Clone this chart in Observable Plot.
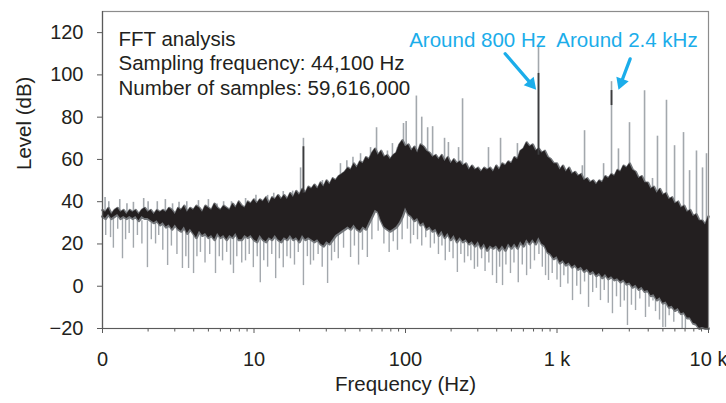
<!DOCTYPE html>
<html>
<head>
<meta charset="utf-8">
<script src="https://cdn.jsdelivr.net/npm/d3@7"></script>
<script src="https://cdn.jsdelivr.net/npm/@observablehq/plot@0.6"></script>
<style>
  html, body { margin: 0; padding: 0; background: #fff; }
  #chart svg { display: block; }
</style>
</head>
<body>
<div id="chart"></div>
<script>
// ---- Data ----
// The black spectral band is read at 50 points per decade, from 1 Hz to 10 kHz
const bandPointsPerDecade = 50;
const bandHigh = [
  36, 35, 37, 34, 36, 37, 35, 36, 34, 36,
  35, 36, 34, 36, 37, 35, 36, 34, 36, 35,
  36, 35, 37, 36, 34, 37, 36, 38, 35, 37,
  36, 38, 37, 35, 38, 37, 36, 39, 37, 36,
  38, 37, 36, 39, 37, 40, 38, 37, 40, 39,
  41, 39, 41, 40, 42, 39, 42, 41, 43, 41,
  43, 41, 44, 42, 45, 43, 46, 44, 47, 46,
  48, 46, 49, 47, 50, 48, 51, 50, 52, 53,
  54, 56, 55, 58, 56, 59, 58, 61, 60, 63,
  65, 62, 64, 61, 62, 60, 62, 63, 67, 69,
  66, 67, 64, 66, 63, 67, 66, 64, 63, 61,
  62, 60, 62, 59, 61, 58, 60, 58, 59, 57,
  58, 55, 57, 55, 56, 54, 56, 55, 56, 54,
  57, 55, 58, 57, 59, 58, 61, 60, 64, 65,
  68, 66, 67, 64, 65, 63, 64, 61, 60, 58,
  58, 55, 57, 54, 56, 53, 54, 52, 53, 50,
  51, 49, 50, 48, 50, 49, 52, 51, 53, 52,
  55, 54, 57, 56, 58, 55, 54, 51, 52, 49,
  49, 46, 47, 44, 46, 43, 44, 41, 42, 39,
  40, 37, 38, 35, 36, 33, 34, 31, 31, 29,
  33
];
const bandLow = [
  33, 32, 34, 32, 33, 34, 32, 33, 32, 33,
  32, 33, 31, 33, 32, 32, 31, 30, 31, 29,
  30, 28, 29, 27, 29, 27, 26, 28, 25, 27,
  25, 23, 26, 24, 25, 23, 24, 22, 25, 23,
  24, 22, 24, 23, 25, 22, 22, 24, 23, 24,
  22, 21, 24, 22, 21, 23, 22, 24, 22, 21,
  23, 22, 24, 22, 23, 21, 24, 22, 23, 22,
  21, 22, 20, 19, 21, 20, 22, 24, 25, 26,
  27, 28, 27, 29, 27, 26, 28, 27, 30, 33,
  36, 35, 31, 28, 27, 26, 27, 28, 30, 33,
  37, 34, 33, 31, 32, 29, 30, 27, 28, 26,
  27, 24, 26, 23, 25, 22, 24, 21, 23, 21,
  22, 20, 21, 19, 21, 18, 20, 17, 19, 18,
  19, 17, 19, 17, 20, 18, 20, 18, 21, 19,
  22, 20, 22, 20, 23, 20, 19, 16, 15, 13,
  14, 11, 12, 10, 11, 9, 10, 8, 9, 7,
  8, 6, 7, 5, 6, 4, 5.5, 3.5, 4.5, 3,
  3.5, 2, 3, 1, 1.5, -0.5, 0.5, -1.5, -0.5, -2.5,
  -2, -4.5, -4, -6.5, -5.5, -8, -7.5, -10, -9.5, -11.5,
  -10.5, -13, -12.5, -15, -15, -17.5, -18, -20, -19.5, -20,
  -20
];

// Upward peaks (grey lines): frequency (Hz), top level, level where they leave the band
const peakFreq = [1.04, 1.1, 1.3, 1.45, 1.6, 1.87, 2.0, 2.3, 2.6, 2.9,
  3.2, 3.6, 4.3, 5.0, 5.7, 6.3, 7.1, 8.8, 10.3, 12.3,
  13.5, 15.6, 18, 20.3, 21.2, 28.3, 37.2, 41, 45, 50.5,
  58.8, 64.4, 76, 82, 88.5, 97, 101, 118, 128, 140,
  151, 181, 192, 224, 238, 353, 424, 548, 755, 1470,
  1520, 2030, 2290, 2545, 3010, 3784, 4270, 4605, 5280, 5970,
  6840, 7500, 8330, 9130, 9700];
const peakTop = [42, 40, 41, 39, 39.7, 41.5, 40, 40, 41, 39,
  39.7, 40, 40.5, 41, 38.9, 40, 40, 41.5, 43, 43,
  44, 44.8, 45, 56, 70, 50, 58, 59.4, 61, 62.7,
  65.6, 75, 64, 67.5, 65.6, 77, 78, 90, 80, 75,
  75.5, 70, 68, 65.6, 88.7, 65.6, 70, 67.5, 113, 57,
  73.6, 58, 96.8, 65, 77.4, 92.5, 51, 71, 88, 66.5,
  72.7, 54.7, 64, 56, 62.7];
const peakBase = [34, 34, 34, 34, 33, 33, 33, 33, 33, 33,
  34, 34, 34, 34, 34, 35, 35, 36, 38, 38,
  39, 40, 41, 42, 43, 45, 49, 51, 53, 56,
  59, 61, 59, 59, 61, 64, 64, 62, 63, 64,
  61, 58, 57, 56, 56, 53, 54, 58, 62, 50,
  49, 48, 50, 52, 53, 48, 45, 44, 41, 39,
  36, 34, 32, 29, 28];

// Darker segments inside the tallest peaks: frequency, top, bottom
const darkFreq = [21.2, 755, 2290];
const darkTop = [66, 100.7, 92.6];
const darkBottom = [44, 62, 85.5];

// Downward dips (grey lines): frequency (Hz), bottom level, level where they leave the band
const dipFreq = [
  1.05, 1.13, 1.18, 1.26, 1.355, 1.42, 1.5, 1.6, 1.7, 1.82,
  1.98, 2.1, 2.24, 2.35, 2.5, 2.69, 2.85, 3.1, 3.37, 3.55,
  3.7, 3.99, 4.2, 4.43, 4.75, 5.1, 5.57, 5.9, 6.2, 6.6,
  7.0, 7.32, 7.7, 8.3, 8.79, 9.3, 9.9, 10.5, 11.0, 11.6,
  12.3, 13.1, 13.9, 14.7, 15.6, 16.5, 17.4, 18.5, 19.6, 21.2,
  22.5, 23.6, 24.7, 26.5, 28.2, 30.6, 32.5, 34, 36, 39,
  43.4, 46, 49, 52, 56, 60, 66, 72, 78, 83,
  88.5, 95, 103, 108, 113, 120, 128, 136, 146, 155,
  165, 174, 183, 195, 206, 220, 232, 245, 258, 270,
  285, 299, 318, 335, 355, 375, 399, 418, 437, 460,
  493, 520, 555, 590, 630, 668, 710, 760, 800, 840,
  879, 930, 1000, 1054, 1110, 1180, 1266, 1350, 1429, 1520,
  1615, 1720, 1820, 1936, 2050, 2180, 2323, 2470, 2623, 2780,
  2918, 3100, 3299, 3520, 3838, 4050, 4300, 4470, 4750, 5000,
  5200, 5500, 5900, 6340, 6700, 7040
];
const dipLevel = [
  24, 23, 18, 27, 13, 22, 25, 18, 24, 20,
  8.8, 22, 20, 24, 17, 9.8, 19, 15, 8.4, 14,
  8.4, 6, 14, 16, 11, 15, 6, 14, 12, 16,
  10, 6, 14, 11, 12, 15, 8.8, 14, 1.7, 12,
  9, 15, 3.6, 13, 8.8, 14, 13, 10, 16, 0.3,
  14, 10, 12, 15, 9, 1.3, 12, 16, 13, 18,
  13.6, 19, 10, 17, 13.6, 22, 26, 20, 16, 21,
  17, 22, 27, 20, 24, 22, 19, 23, 18, 20,
  15, 19, 12, 16, 13, 6.5, 15, 11, 14, 12,
  8, 9, 13, 7, 11, 5, 1.3, 9, 0.3, 10,
  6, 11, 1.7, 10, 5, 8, 12, 15, 9, 5,
  2.7, 6, 3, -0.6, 5, 1, -6.8, 0, -4, 2,
  -10, -3, -1, -6.8, -2, -8, -13, -5, -10, -7,
  -18.6, -9, -11.5, -6, -14.8, -10, -7, -12, -16, -19.5,
  -19.5, -14, -17, -13, -20, -20
];
const dipBase = [
  33, 33, 33, 33, 33, 33, 33, 32, 32, 31,
  31, 30, 30, 30, 29, 29, 28, 28, 27, 27,
  26, 26, 25, 25, 25, 25, 25, 24, 24, 24,
  24, 24, 24, 24, 24, 24, 24, 24, 24, 24,
  24, 24, 24, 24, 24, 24, 24, 24, 24, 24,
  24, 24, 24, 23, 23, 22, 22, 23, 25, 27,
  28, 28, 28, 28, 29, 32, 35, 30, 28, 28,
  29, 32, 35, 33, 32, 31, 30, 29, 28, 27,
  26, 26, 25, 24, 24, 23, 23, 22, 22, 22,
  21, 21, 21, 20, 20, 20, 19, 19, 19, 19,
  19, 20, 20, 20, 20, 21, 21, 22, 20, 18,
  16, 15, 14, 13, 12, 12, 11, 10, 9, 9,
  8, 8, 7, 6, 6, 5, 5, 4, 4, 3,
  3, 2, 1, 0, -1, -2, -3, -4, -5, -6,
  -7, -8, -9, -10, -11, -13
];

// Axis ticks
const xTicks = [1, 10, 100, 1000, 10000];
const xTickLabels = ["0", "10", "100", "1 k", "10 k"];
const yTicks = [-20, 0, 20, 40, 60, 80, 100, 120];

// Texts
const infoText = "FFT analysis\nSampling frequency: 44,100 Hz\nNumber of samples: 59,616,000";
const noteText = ["Around 800 Hz", "Around 2.4 kHz"];
const noteFreq = [299, 2897];
const noteLevel = [116.5, 116.5];
// Arrows: start (freq, level) -> tip (freq, level)
const arrowFreq1 = [455, 3041];
const arrowLevel1 = [110, 107.6];
const arrowFreq2 = [729, 2546];
const arrowLevel2 = [93, 93];

// ---- Build tables ----
const band = bandHigh.map((hi, i) => ({f: 10 ** (i / bandPointsPerDecade), hi, lo: bandLow[i]}));
const peaks = peakFreq.map((f, i) => ({f, top: peakTop[i], base: peakBase[i]}));
const darks = darkFreq.map((f, i) => ({f, top: darkTop[i], bottom: darkBottom[i]}));
const dips = dipFreq.map((f, i) => ({f, level: dipLevel[i], base: dipBase[i]}));
const notes = noteText.map((t, i) => ({t, f: noteFreq[i], v: noteLevel[i]}));
const arrows = arrowFreq1.map((f, i) => ({x1: f, y1: arrowLevel1[i], x2: arrowFreq2[i], y2: arrowLevel2[i]}));
const minorTicks = [];
for (const dec of [1, 10, 100, 1000]) for (let k = 2; k <= 9; k++) minorTicks.push(k * dec);

const ink = "#231f20";
const grey = "#a3a8ad";
const fringe = "#74777b";
const cyan = "#1badea";

const chart = Plot.plot({
  width: 726,
  height: 403,
  marginLeft: 102,
  marginRight: 18,
  marginTop: 11,
  marginBottom: 75,
  style: {fontFamily: "'Liberation Sans', Arial, Helvetica, sans-serif", fontSize: "20px", color: ink, background: "#fff"},
  x: {type: "log", domain: [1, 10000]},
  y: {domain: [-20, 130]},
  marks: [
    Plot.ruleX(dips, {x: "f", y1: "base", y2: "level", stroke: grey, strokeWidth: 1.4}),
    Plot.ruleX(peaks, {x: "f", y1: "base", y2: "top", stroke: grey, strokeWidth: 1.6}),
    Plot.line(band, {x: "f", y: "hi", stroke: fringe, strokeWidth: 2.6}),
    Plot.line(band, {x: "f", y: "lo", stroke: fringe, strokeWidth: 3}),
    Plot.areaY(band, {x: "f", y1: "lo", y2: "hi", fill: ink}),
    Plot.ruleX(darks, {x: "f", y1: "bottom", y2: "top", stroke: "#3c3c3e", strokeWidth: 1.8}),
    Plot.frame({stroke: "#8c8c8c", strokeWidth: 1.2}),
    Plot.ruleX([1], {stroke: "#5a5a5a", strokeWidth: 1.2}),
    Plot.ruleY([-20], {stroke: "#5a5a5a", strokeWidth: 1.2}),
    Plot.axisY({ticks: yTicks, tickSize: 5, tickPadding: 14, fontSize: 20, label: null, stroke: "#5a5a5a"}),
    Plot.axisX({ticks: xTicks, tickFormat: d => xTickLabels[xTicks.indexOf(d)], tickSize: 5, tickPadding: 18, fontSize: 20, label: null, stroke: "#5a5a5a"}),
    Plot.axisX({ticks: minorTicks, tickFormat: () => "", tickSize: 3.5, label: null, stroke: "#5a5a5a"}),
    Plot.text([infoText], {frameAnchor: "top-left", text: d => d, textAnchor: "start", lineAnchor: "top", lineHeight: 1.18, dx: 16, dy: 17.5, fontSize: 20.5, fill: ink}),
    Plot.text(notes, {x: "f", y: "v", text: "t", fontSize: 20.5, fill: cyan}),
    Plot.arrow(arrows, {x1: "x1", y1: "y1", x2: "x2", y2: "y2", stroke: cyan, strokeWidth: 3.3, headLength: 0, insetEnd: 8}),
    Plot.dot([arrows[0]], {x: "x2", y: "y2", symbol: "triangle", r: 4.9, fill: cyan, stroke: "none", rotate: 139.3, dx: -5.0, dy: -5.8}),
    Plot.dot([arrows[1]], {x: "x2", y: "y2", symbol: "triangle", r: 4.9, fill: cyan, stroke: "none", rotate: 200.7, dx: 2.7, dy: -7.1}),
    Plot.text(["Level (dB)"], {frameAnchor: "left", text: d => d, rotate: -90, dx: -78, fontSize: 20.5, fill: ink}),
    Plot.text(["Frequency (Hz)"], {frameAnchor: "bottom", text: d => d, dy: 62, fontSize: 20.5, fill: ink})
  ]
});
document.getElementById("chart").appendChild(chart);
</script>
</body>
</html>
